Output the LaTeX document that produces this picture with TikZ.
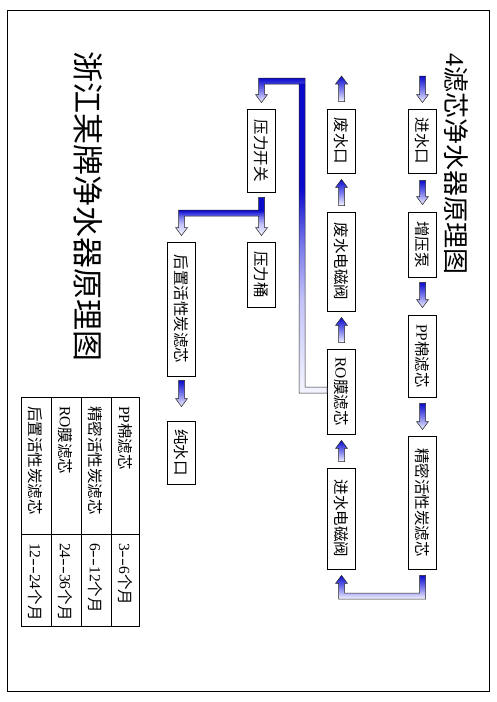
\documentclass[tikz,border=0pt]{standalone}
\usepackage{fontspec}
\setmainfont{Liberation Serif}
\newfontfamily\cjk{Noto Sans CJK SC}
\usepackage{graphicx}
\usetikzlibrary{calc}
\newcommand\zh[1]{{\cjk #1}}
\newcommand\rt[1]{\rotatebox{-90}{#1}}
\newcommand\dd{\scalebox{1.5}[1]{-{}-}}
\definecolor{adark}{RGB}{10,10,205}
\definecolor{amid}{RGB}{120,120,235}
\definecolor{alight}{RGB}{244,244,255}
\definecolor{alight2}{RGB}{195,195,248}
\pgfdeclareverticalshading{blkA}{100bp}{color(0bp)=(alight); color(25bp)=(alight); color(50bp)=(amid); color(75bp)=(adark); color(100bp)=(adark)}
\pgfdeclareverticalshading{blkB}{100bp}{color(0bp)=(alight); color(25bp)=(alight); color(40bp)=(alight2); color(49bp)=(amid); color(58bp)=(adark); color(100bp)=(adark)}
\tikzset{
  box/.style={draw, line width=0.9pt, minimum width=28, inner sep=0pt, font=\fontsize{15.5}{16}\selectfont},
  blk/.style={shade, shading=blkA, draw=black!85, line width=0.5pt},
  blkbent/.style={shade, shading=blkB, draw=black!85, line width=0.5pt},
  fillA/.style={shade, shading=blkA},
  fillB/.style={shade, shading=blkB},
  outline/.style={draw=black!85, line width=0.5pt},
  cell/.style={anchor=north, inner sep=0pt, font=\fontsize{15.5}{16}\selectfont},
  grid/.style={line width=0.9pt}
}
% straight block arrows: tail, tail gap, tip, tip gap
\newcommand\adown[4]{\path[blk] ($(#1)+(-3,#2)$) -- ($(#1)+(3,#2)$) -- ($(#3)+(3,-#4-8)$) -- ($(#3)+(6,-#4-8)$) -- ($(#3)+(0,-#4)$) -- ($(#3)+(-6,-#4-8)$) -- ($(#3)+(-3,-#4-8)$) -- cycle;}
\newcommand\aup[4]{\path[blk] ($(#1)+(-3,-#2)$) -- ($(#1)+(3,-#2)$) -- ($(#3)+(3,#4+8)$) -- ($(#3)+(6,#4+8)$) -- ($(#3)+(0,#4)$) -- ($(#3)+(-6,#4+8)$) -- ($(#3)+(-3,#4+8)$) -- cycle;}
\begin{document}
\begin{tikzpicture}[x=1pt,y=-1pt]
\useasboundingbox (0,0) rectangle (496,702);
\fill[white] (0,0) rectangle (496,702);
\draw[line width=1pt] (7,10) rectangle (489,691);

% titles
\node[inner sep=0pt, font=\fontsize{26}{26}\selectfont] (t1) at (456,163.5) {\rt{4\zh{滤芯净水器原理图}}};
\node[inner sep=0pt, font=\fontsize{31}{31}\selectfont] (t2) at (88,206) {\rt{\zh{浙江某牌净水器原理图}}};

% boxes
\node[box, minimum height=64] (in) at (422.5,141) {\rt{\zh{进水口}}};
\node[box, minimum height=65] (pump) at (422.5,244.5) {\rt{\zh{增压泵}}};
\node[box, minimum height=82] (pp) at (422.5,356) {\rt{PP\zh{棉滤芯}}};
\node[box, minimum height=133] (jm) at (422.5,502.5) {\rt{\zh{精密活性炭滤芯}}};
\node[box, minimum height=64] (fsk) at (341.5,141) {\rt{\zh{废水口}}};
\node[box, minimum height=99] (fsv) at (341.5,261.5) {\rt{\zh{废水电磁阀}}};
\node[box, minimum height=85] (ro) at (341.5,391.5) {\rt{RO\zh{膜滤芯}}};
\node[box, minimum height=101] (jsv) at (341.5,518.5) {\rt{\zh{进水电磁阀}}};
\node[box, minimum height=83] (psw) at (261.5,150.5) {\rt{\zh{压力开关}}};
\node[box, minimum height=65] (tank) at (261.5,274.5) {\rt{\zh{压力桶}}};
\node[box, minimum height=134] (post) at (181.5,309) {\rt{\zh{后置活性炭滤芯}}};
\node[box, minimum height=63] (pure) at (181.5,452.5) {\rt{\zh{纯水口}}};

% free ends and bends
\coordinate (src) at (422.5,76);
\coordinate (drain) at (341.5,76);
\coordinate (kA) at (302,81);
\coordinate (kB) at (261.5,213);
\coordinate (kC) at (380,596);

% straight arrows
\adown{src}{0}{in.north}{6}
\adown{in.south}{7}{pump.north}{7}
\adown{pump.south}{5}{pp.north}{7}
\adown{pp.south}{6}{jm.north}{6}
\aup{jsv.north}{6}{ro.south}{6}
\aup{ro.north}{6}{fsv.south}{6}
\aup{fsv.north}{6}{fsk.south}{6}
\aup{fsk.north}{7}{drain}{0}
\adown{post.south}{4}{pure.north}{14}

% RO -> pressure switch (two shaded pieces, one outline)
\path[fillA] ($(psw.north |- kA)+(-3,-3)$) -- ($(kA)+(3,-3)$) -- ($(kA)+(3,3)$)
  -- ($(psw.north |- kA)+(3,3)$) -- ($(psw.north)+(3,-14)$) -- ($(psw.north)+(6,-14)$)
  -- ($(psw.north)+(0,-6)$) -- ($(psw.north)+(-6,-14)$) -- ($(psw.north)+(-3,-14)$) -- cycle;
\path[fillB] ($(kA)+(-3,2.5)$) -- ($(kA)+(3,2.5)$) -- ($(kA |- ro.west)+(3,-4.5)$)
  -- ($(ro.west)+(0,-4.5)$) -- ($(ro.west)+(0,1.5)$) -- ($(kA |- ro.west)+(-3,1.5)$) -- cycle;
\path[outline] ($(ro.west)+(0,1.5)$) -- ($(kA |- ro.west)+(-3,1.5)$) -- ($(kA)+(-3,3)$)
  -- ($(psw.north |- kA)+(3,3)$) -- ($(psw.north)+(3,-14)$) -- ($(psw.north)+(6,-14)$)
  -- ($(psw.north)+(0,-6)$) -- ($(psw.north)+(-6,-14)$) -- ($(psw.north)+(-3,-14)$)
  -- ($(psw.north |- kA)+(-3,-3)$) -- ($(kA)+(3,-3)$) -- ($(kA |- ro.west)+(3,-4.5)$)
  -- ($(ro.west)+(0,-4.5)$) -- cycle;

% pressure switch -> tank and post filter
\path[blkbent] ($(psw.south)+(-3,5)$) -- ($(psw.south)+(3,5)$) -- ($(tank.north)+(3,-14)$)
  -- ($(tank.north)+(6,-14)$) -- ($(tank.north)+(0,-6)$) -- ($(tank.north)+(-6,-14)$)
  -- ($(tank.north)+(-3,-14)$) -- ($(psw.south |- kB)+(-3,3)$) -- ($(post.north |- kB)+(3,3)$)
  -- ($(post.north)+(3,-14)$) -- ($(post.north)+(6,-14)$) -- ($(post.north)+(0,-6)$)
  -- ($(post.north)+(-6,-14)$) -- ($(post.north)+(-3,-14)$) -- ($(post.north |- kB)+(-3,-3)$)
  -- ($(psw.south |- kB)+(-3,-3)$) -- cycle;

% precision filter -> inlet valve
\path[blk] ($(jm.south)+(-3,6)$) -- ($(jm.south)+(3,6)$) -- ($(jm.south |- kC)+(3,3)$)
  -- ($(jsv.south |- kC)+(-3,3)$) -- ($(jsv.south)+(-3,14)$) -- ($(jsv.south)+(-6,14)$)
  -- ($(jsv.south)+(0,6)$) -- ($(jsv.south)+(6,14)$) -- ($(jsv.south)+(3,14)$)
  -- ($(jsv.south |- kC)+(3,-3)$) -- ($(jm.south |- kC)+(-3,-3)$) -- cycle;

% table
\draw[grid] (21,397) rectangle (139,626);
\foreach \x in {51,81,111} \draw[grid] (\x,397) -- (\x,626);
\draw[grid] (21,534) -- (139,534);
\node[cell] (n1) at (125,406) {\rt{PP\zh{棉滤芯}}};
\node[cell] (n2) at (95.7,406) {\rt{\zh{精密活性炭滤芯}}};
\node[cell] (n3) at (65.7,406) {\rt{RO\zh{膜滤芯}}};
\node[cell] (n4) at (35.7,406) {\rt{\zh{后置活性炭滤芯}}};
\node[cell] (p1) at (125,543) {\rt{3\dd6\zh{个月}}};
\node[cell] (p2) at (95.7,543) {\rt{6\dd12\zh{个月}}};
\node[cell] (p3) at (65.7,543) {\rt{24\dd36\zh{个月}}};
\node[cell] (p4) at (35.7,543) {\rt{12\dd24\zh{个月}}};
\end{tikzpicture}
\end{document}
